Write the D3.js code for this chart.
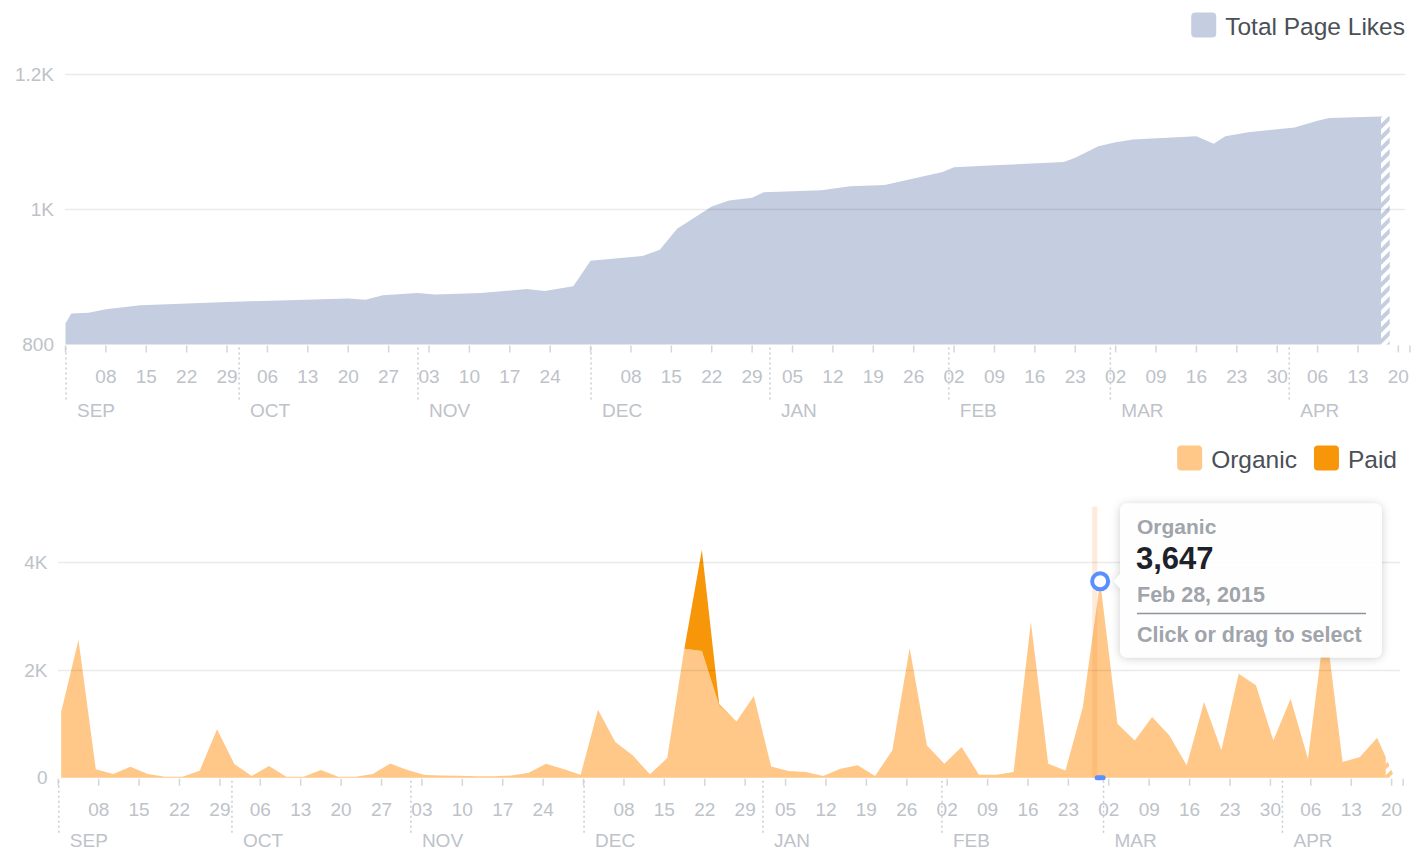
<!DOCTYPE html>
<meta charset="utf-8">
<style>
  body { margin: 0; background: #fff; }
  text { font-family: "Liberation Sans", Arial, Helvetica, sans-serif; }
</style>
<body>
<script src="https://d3js.org/d3.v7.min.js"></script>
<script>
// ---- data ----
// total page likes (breakpoints of the upper area)
let likeDates = ["2014-09-01","2014-09-02","2014-09-05","2014-09-08","2014-09-14","2014-09-29",
  "2014-10-20","2014-10-23","2014-10-26","2014-11-01","2014-11-04","2014-11-12","2014-11-20",
  "2014-11-23","2014-11-28","2014-12-01","2014-12-10","2014-12-13","2014-12-16","2014-12-22",
  "2014-12-25","2014-12-29","2014-12-31","2015-01-10","2015-01-15","2015-01-21","2015-01-31",
  "2015-02-02","2015-02-09","2015-02-21","2015-02-23","2015-02-27","2015-03-02","2015-03-05",
  "2015-03-16","2015-03-19","2015-03-21","2015-03-25","2015-04-02","2015-04-06","2015-04-08",
  "2015-04-17","2015-04-18T12:00"];
let likeValues = [831,846,847,852,858,863,868,866,873,876,874,876,882,879,886,924,931,940,971,1004,
  1013,1017,1025,1028,1034,1036,1055,1062,1065,1070,1076,1093,1099,1103,1108,1097,1108,1114,
  1121,1131,1135,1137,1137];
let likeTicks = [800, 1000, 1200];

// new likes, one point every 3 days from Sep 1 2014
let reachStart = "2014-09-01";
let organic = [1225,2556,155,68,204,68,19,19,130,898, 254,31,217,19,19,142,19,19,68,266,
  142,50,40,35,25,25,40,93,260,160, 56,1263,662,415,62,365,2395,2352,1343,1046,
  1517,210,124,105,31,167,229,31,508,2408, 600,260,569,56,56,105,2891,260,136,1312,
  3647,1003,693,1127,786,229,1405,508,1931,1715, 693,1467,353,2900,291,384,743,10];
let paid = [0,0,0,0,0,0,0,0,0,0, 0,0,0,0,0,0,0,0,0,0,
  0,0,0,0,0,0,0,0,0,0, 0,0,0,0,0,0,20,1880,20,0,
  0,0,0,0,0,0,0,0,0,0, 0,0,0,0,0,0,0,0,0,0,
  0,0,0,0,0,0,0,0,0,0, 0,0,0,0,0,0,0,0];
let reachTicks = [0, 2000, 4000];

let tipDate = "2015-02-28";

// ---- setup ----
const width = 1412, height = 852;
const p1 = d3.timeParse("%Y-%m-%dT%H:%M"), p2 = d3.timeParse("%Y-%m-%d");
const parse = s => p1(s) || p2(s);
const fmtK = v => v >= 1000 ? (v / 1000) + "K" : String(v);

const cLikes = "#c5cde0", cOrg = "#ffc888", cPaid = "#f79608";
const cLabel = "#bec2c9", cTick = "#d3d6db";

let svg = d3.select("body").append("svg")
  .attr("width", width).attr("height", height)
  .style("display", "block");

let defs = svg.append("defs");
function hatch(id, color) {
  let p = defs.append("pattern").attr("id", id)
    .attr("patternUnits", "userSpaceOnUse")
    .attr("width", 8).attr("height", 8)
    .attr("patternTransform", "rotate(45)");
  p.append("rect").attr("width", 8).attr("height", 8).attr("fill", "#fff");
  p.append("rect").attr("width", 4).attr("height", 8).attr("fill", color);
}
hatch("hLikes", cLikes);
hatch("hOrg", cOrg);

let sh = defs.append("filter").attr("id", "shadow")
  .attr("x", -0.2).attr("y", -0.3).attr("width", 1.4).attr("height", 1.6);
sh.append("feDropShadow").attr("dx", 0).attr("dy", 1).attr("stdDeviation", 5)
  .attr("flood-color", "#000").attr("flood-opacity", 0.2);

const start = parse("2014-09-01"), end = parse("2015-04-22");
const lastMonday = parse("2015-04-21");

// time axis with monday ticks, day labels and dotted month separators
function timeAxis(g, x, y0, moY) {
  let mondays = d3.timeMonday.range(start, lastMonday);
  g.selectAll("line.tk").data(mondays.concat([end])).join("line").attr("class", "tk")
    .attr("x1", d => x(d)).attr("x2", d => x(d))
    .attr("y1", y0 + 1).attr("y2", y0 + 8)
    .attr("stroke", cTick).attr("stroke-width", 1.5);
  g.selectAll("text.day").data(mondays.filter(d => d.getDate() !== 1)).join("text")
    .attr("class", "day")
    .attr("x", d => x(d)).attr("y", y0 + 31.5).attr("dy", "0.35em")
    .attr("text-anchor", "middle")
    .attr("font-size", 19).attr("fill", cLabel)
    .text(d3.timeFormat("%d"));
  let months = d3.timeMonth.range(start, end);
  g.selectAll("line.mo").data(months).join("line").attr("class", "mo")
    .attr("x1", d => x(d) + 0.5).attr("x2", d => x(d) + 0.5)
    .attr("y1", y0 + 3).attr("y2", y0 + 56)
    .attr("stroke", "#c9ccd1").attr("stroke-width", 1.5)
    .attr("stroke-dasharray", "2,3");
  g.selectAll("text.mo").data(months).join("text").attr("class", "mo")
    .attr("x", d => x(d) + 11.5).attr("y", y0 + moY).attr("dy", "0.35em")
    .attr("font-size", 19).attr("fill", cLabel)
    .text(d => d3.timeFormat("%b")(d).toUpperCase());
}

function yAxis(g, y, ticks, x0) {
  g.append("g")
    .attr("transform", "translate(" + x0 + ",0)")
    .call(d3.axisLeft(y).tickValues(ticks).tickSize(0).tickPadding(11).tickFormat(fmtK))
    .call(a => a.select(".domain").remove())
    .call(a => a.selectAll("text")
      .attr("font-size", 19).attr("fill", cLabel)
      .style("font-family", "'Liberation Sans', Arial, sans-serif"));
}

function grid(g, y, ticks, x0, x1) {
  g.selectAll("line.grid").data(ticks.slice(1)).join("line").attr("class", "grid")
    .attr("x1", x0).attr("x2", x1)
    .attr("y1", d => Math.round(y(d)) + 0.5).attr("y2", d => Math.round(y(d)) + 0.5)
    .attr("stroke", "#000").attr("stroke-opacity", 0.08).attr("stroke-width", 1.3);
}

function legend(g, items, right, cy) {
  let xPos = right;
  // lay out from the right edge
  for (let i = items.length - 1; i >= 0; i--) {
    let t = g.append("text").attr("y", cy + 10).attr("font-size", 24.5)
      .attr("fill", "#4b4f56").text(items[i].name);
    let w = t.node().getComputedTextLength();
    t.attr("x", xPos - w);
    g.append("rect").attr("x", xPos - w - 34).attr("y", cy - 12.5)
      .attr("width", 25).attr("height", 25).attr("rx", 4)
      .attr("fill", items[i].color);
    xPos = xPos - w - 34 - 17;
  }
}

// ---- top chart: total page likes ----
let likes = likeDates.map((d, i) => ({ date: parse(d), value: likeValues[i] }));

let xTop = d3.scaleTime().domain([start, end]).range([65.5, 65.5 + 233 * 5.77]);
let yTop = d3.scaleLinear().domain([800, 1200]).range([344.5, 74]);

let topG = svg.append("g");
let likeArea = d3.area()
  .x(d => xTop(d.date)).y0(yTop(800)).y1(d => yTop(d.value));

topG.append("clipPath").attr("id", "topSolid").append("rect")
  .attr("x", 0).attr("y", 0).attr("width", xTop(parse("2015-04-17"))).attr("height", height);
topG.append("clipPath").attr("id", "topHatch").append("rect")
  .attr("x", xTop(parse("2015-04-17"))).attr("y", 0).attr("width", 100).attr("height", height);

topG.append("path").datum(likes).attr("d", likeArea)
  .attr("fill", cLikes).attr("clip-path", "url(#topSolid)");
topG.append("path").datum(likes).attr("d", likeArea)
  .attr("fill", "url(#hLikes)").attr("clip-path", "url(#topHatch)");

grid(topG, yTop, likeTicks, 65, 1405);
yAxis(topG, yTop, likeTicks, 54 + 11);
timeAxis(topG.append("g"), xTop, 344.5, 65.5);
legend(topG, [{ name: "Total Page Likes", color: cLikes }], 1405, 25);

// ---- bottom chart: organic / paid likes ----
let reachDates = d3.timeDay.range(parse(reachStart), parse("2015-04-21"), 3);
let reach = reachDates.map((d, i) => ({ date: d, organic: organic[i], paid: paid[i] }));

let xBot = d3.scaleTime().domain([start, end]).range([58.3, 58.3 + 233 * 5.772]);
let yBot = d3.scaleLinear().domain([0, 5000]).range([777.7, 508.5]);
const xMid = d => xBot(d3.timeHour.offset(d, 12)); // points sit at mid-day

let botG = svg.append("g");
let orgArea = d3.area().x(d => xMid(d.date)).y0(yBot(0)).y1(d => yBot(d.organic));
let paidArea = d3.area().x(d => xMid(d.date))
  .y0(d => yBot(d.organic)).y1(d => yBot(d.organic + d.paid));

let hatchFrom = xBot(parse("2015-04-19"));
botG.append("clipPath").attr("id", "botSolid").append("rect")
  .attr("x", 0).attr("y", 0).attr("width", hatchFrom).attr("height", height);
botG.append("clipPath").attr("id", "botHatch").append("rect")
  .attr("x", hatchFrom).attr("y", 0).attr("width", 100).attr("height", height);

botG.append("path").datum(reach).attr("d", orgArea)
  .attr("fill", cOrg).attr("clip-path", "url(#botSolid)");
botG.append("path").datum(reach).attr("d", orgArea)
  .attr("fill", "url(#hOrg)").attr("clip-path", "url(#botHatch)");
botG.append("path").datum(reach).attr("d", paidArea)
  .attr("fill", cPaid).attr("clip-path", "url(#botSolid)");

grid(botG, yBot, reachTicks, 58, 1400);
yAxis(botG, yBot, reachTicks, 47.5 + 11);
timeAxis(botG.append("g"), xBot, 777.7, 63);
legend(botG, [{ name: "Organic", color: cOrg }, { name: "Paid", color: cPaid }], 1397, 458);

// ---- hover state on Feb 28 ----
let tip = reach.find(d => +d.date === +parse(tipDate));
let tx = xMid(tip.date), ty = yBot(tip.organic);

botG.append("rect")
  .attr("x", xBot(tip.date) - 5).attr("y", yBot(5000) - 2)
  .attr("width", 5).attr("height", yBot(0) - yBot(5000) + 2)
  .attr("fill", "#f5883a").attr("opacity", 0.18);
botG.append("rect")
  .attr("x", tx - 5.5).attr("y", yBot(0) - 2.5).attr("width", 11).attr("height", 5)
  .attr("rx", 2.5).attr("fill", "#5890ff");
botG.append("circle").attr("cx", tx).attr("cy", ty).attr("r", 8)
  .attr("fill", "#fff").attr("stroke", "#5890ff").attr("stroke-width", 4);

let box = botG.append("g").attr("transform", "translate(1120,503.5)");
let bw = 262, bh = 154, r = 7, py = ty - 503.5;
box.append("path")
  .attr("d", "M" + r + ",0H" + (bw - r) + "A" + r + "," + r + " 0 0 1 " + bw + "," + r +
    "V" + (bh - r) + "A" + r + "," + r + " 0 0 1 " + (bw - r) + "," + bh +
    "H" + r + "A" + r + "," + r + " 0 0 1 0," + (bh - r) +
    "V" + (py + 7) + "L-6," + py + "L0," + (py - 7) +
    "V" + r + "A" + r + "," + r + " 0 0 1 " + r + ",0Z")
  .attr("fill", "#fff").attr("fill-opacity", 0.94).attr("filter", "url(#shadow)");
box.append("text").attr("x", 17).attr("y", 30).attr("font-size", 21)
  .attr("font-weight", "bold").attr("fill", "#a0a4ab").text("Organic");
box.append("text").attr("x", 16).attr("y", 65).attr("font-size", 31)
  .attr("font-weight", "bold").attr("fill", "#1d2129").text(d3.format(",")(tip.organic));
box.append("text").attr("x", 17).attr("y", 98).attr("font-size", 21.5)
  .attr("font-weight", "bold").attr("fill", "#a0a4ab")
  .text(d3.timeFormat("%b %d, %Y")(tip.date));
box.append("line").attr("x1", 17).attr("x2", 246).attr("y1", 110).attr("y2", 110)
  .attr("stroke", "#8d949e").attr("stroke-width", 1.5);
box.append("text").attr("x", 17).attr("y", 138).attr("font-size", 21.5)
  .attr("font-weight", "bold").attr("fill", "#a0a4ab").text("Click or drag to select");
</script>
</body>
